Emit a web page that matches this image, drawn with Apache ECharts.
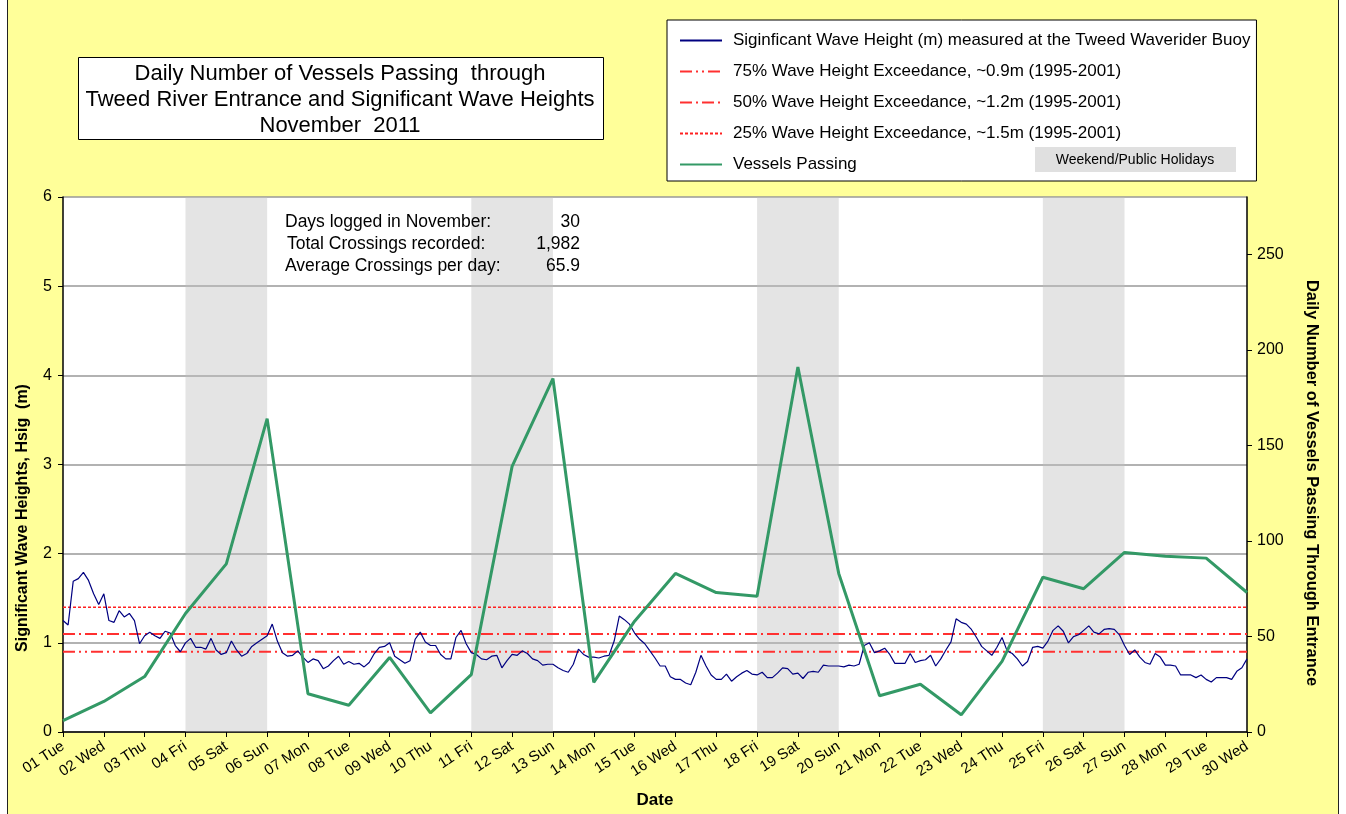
<!DOCTYPE html>
<html>
<head>
<meta charset="utf-8">
<script src="https://cdn.jsdelivr.net/npm/echarts@6/dist/echarts.min.js"></script>
<style>
    html, body { margin: 0; padding: 0; background: #fff; }
    .frame {
        position: absolute;
        left: 7px;
        top: 0;
        width: 1330px;
        height: 814px;
        border-left: 1px solid #222;
        border-right: 1px solid #222;
        background: #FFFF99;
    }
    #chart { width: 1330px; height: 814px; }
</style>
</head>
<body>
<div class="frame"><div id="chart"></div></div>
<script>
    const dayLabels = ['01 Tue', '02 Wed', '03 Thu', '04 Fri', '05 Sat', '06 Sun', '07 Mon', '08 Tue', '09 Wed', '10 Thu',
        '11 Fri', '12 Sat', '13 Sun', '14 Mon', '15 Tue', '16 Wed', '17 Thu', '18 Fri', '19 Sat', '20 Sun',
        '21 Mon', '22 Tue', '23 Wed', '24 Thu', '25 Fri', '26 Sat', '27 Sun', '28 Mon', '29 Tue', '30 Wed'];

    // daily vessel crossings
    const vessels = [6, 16, 29, 62, 88, 164, 20, 14, 39, 10, 30, 139, 185, 26, 58,
        83, 73, 71, 191, 83, 19, 25, 9, 37, 81, 75, 94, 92, 91, 73];

    // Hsig (m), 3-hourly readings, 8 per day
    const samplesPerDay = 8;
    const waveHeight = [
        1.25, 1.20, 1.69, 1.72, 1.79, 1.70, 1.55, 1.43,
        1.55, 1.25, 1.23, 1.36, 1.29, 1.33, 1.25, 0.99,
        1.08, 1.12, 1.08, 1.05, 1.13, 1.11, 0.97, 0.90,
        1.00, 1.05, 0.95, 0.95, 0.93, 1.05, 0.92, 0.87,
        0.89, 1.02, 0.92, 0.85, 0.88, 0.96, 1.00, 1.04,
        1.08, 1.21, 1.02, 0.89, 0.85, 0.86, 0.91, 0.84,
        0.78, 0.82, 0.80, 0.71, 0.74, 0.80, 0.85, 0.76,
        0.79, 0.76, 0.77, 0.73, 0.78, 0.88, 0.95, 0.96,
        1.00, 0.85, 0.81, 0.77, 0.80, 1.04, 1.12, 1.01,
        0.97, 0.97, 0.87, 0.82, 0.82, 1.06, 1.14, 0.99,
        0.89, 0.87, 0.82, 0.81, 0.85, 0.86, 0.72, 0.80,
        0.87, 0.86, 0.91, 0.88, 0.82, 0.80, 0.75, 0.76,
        0.76, 0.72, 0.69, 0.67, 0.76, 0.93, 0.87, 0.84,
        0.84, 0.83, 0.85, 0.86, 1.02, 1.30, 1.26, 1.21,
        1.11, 1.04, 0.99, 0.91, 0.83, 0.74, 0.74, 0.62,
        0.59, 0.59, 0.55, 0.53, 0.67, 0.86, 0.74, 0.64,
        0.59, 0.59, 0.65, 0.57, 0.62, 0.66, 0.69, 0.65,
        0.64, 0.67, 0.61, 0.61, 0.66, 0.72, 0.71, 0.65,
        0.66, 0.60, 0.67, 0.68, 0.67, 0.75, 0.74, 0.74,
        0.74, 0.73, 0.75, 0.74, 0.76, 0.97, 1.00, 0.89,
        0.91, 0.94, 0.87, 0.77, 0.77, 0.77, 0.88, 0.78,
        0.80, 0.81, 0.86, 0.74, 0.82, 0.92, 1.01, 1.27,
        1.23, 1.21, 1.15, 1.06, 0.96, 0.91, 0.86, 0.95,
        1.06, 0.91, 0.88, 0.82, 0.74, 0.79, 0.95, 0.96,
        0.94, 1.02, 1.14, 1.19, 1.13, 1.00, 1.07, 1.09,
        1.14, 1.19, 1.12, 1.10, 1.15, 1.16, 1.15, 1.09,
        0.97, 0.87, 0.92, 0.84, 0.78, 0.76, 0.88, 0.84,
        0.75, 0.75, 0.74, 0.64, 0.64, 0.64, 0.61, 0.64,
        0.59, 0.56, 0.61, 0.61, 0.61, 0.59, 0.68, 0.72,
        0.82
    ];

    // weekend / public holiday bands, [from day index, to day index]
    const weekendSpans = [[3, 5], [10, 12], [17, 19], [24, 26]];

    const exceedNames = ['75% Wave Height Exceedance, ~0.9m (1995-2001)',
        '50% Wave Height Exceedance, ~1.2m (1995-2001)',
        '25% Wave Height Exceedance, ~1.5m (1995-2001)'];
    const exceedLevels = [0.9, 1.1, 1.4];

    const rightTicks = [0, 50, 100, 150, 200, 250];

    const statLabels = ['Days logged in November:', 'Total Crossings recorded:', 'Average Crossings per day:'];
    const statValues = ['30', '1,982', '65.9'];

    const titleLines = ['Daily Number of Vessels Passing  through',
        'Tweed River Entrance and Significant Wave Heights',
        'November  2011'];

    const waveName = 'Siginficant Wave Height (m) measured at the Tweed Waverider Buoy';
    const vesselName = 'Vessels Passing';
    const font = '"Liberation Sans", Arial, sans-serif';
    const lastDay = dayLabels.length - 1;

    let chart = echarts.init(document.getElementById('chart'));

    let dashTypes = [[12, 4, 2, 4, 2, 4], [12, 4, 2, 4], [3, 2]];
    let exceedSeries = exceedLevels.map(function (lv, i) {
        return {
            name: exceedNames[i],
            type: 'line',
            yAxisIndex: 0,
            symbol: 'none',
            silent: true,
            data: [[0, lv], [lastDay, lv]],
            lineStyle: {color: i === 2 ? '#ff2020' : '#ff3030', width: i === 2 ? 1.5 : 2, type: dashTypes[i]},
            itemStyle: {color: '#ff3030'},
            z: 3
        };
    });

    let graphics = [
        {
            type: 'rect', left: 70, top: 57,
            shape: {width: 525, height: 82},
            style: {fill: '#fff', stroke: '#000', lineWidth: 1}
        },
        {
            type: 'rect', left: 1027, top: 147,
            shape: {width: 201, height: 25},
            style: {fill: '#e0e0e0'}, z: 10
        },
        {
            type: 'text', x: 1127, y: 160, z: 11,
            style: {text: 'Weekend/Public Holidays', font: '14px ' + font, fill: '#000', align: 'center', verticalAlign: 'middle'}
        },
        {
            // left axis title
            type: 'text', x: 15, y: 518, rotation: Math.PI / 2, z: 10,
            style: {text: 'Significant Wave Heights, Hsig  (m)', font: 'bold 16px ' + font, fill: '#000', align: 'center', verticalAlign: 'middle'}
        },
        {
            // right axis title
            type: 'text', x: 1304, y: 483, rotation: -Math.PI / 2, z: 10,
            style: {text: 'Daily Number of Vessels Passing Through Entrance', font: 'bold 16.5px ' + font, fill: '#000', align: 'center', verticalAlign: 'middle'}
        }
    ];
    titleLines.forEach(function (t, i) {
        graphics.push({
            type: 'text', x: 332, y: 74 + i * 26,
            style: {text: t, font: '22px ' + font, fill: '#000', align: 'center', verticalAlign: 'middle'}
        });
    });
    statLabels.forEach(function (t, i) {
        graphics.push({
            type: 'text', x: 277 + (i === 1 ? 2 : 0), y: 222 + i * 22, z: 10,
            style: {text: t, font: '17.5px ' + font, fill: '#000', verticalAlign: 'middle'}
        });
        graphics.push({
            type: 'text', x: 572, y: 222 + i * 22, z: 10,
            style: {text: statValues[i], font: '17.5px ' + font, fill: '#000', align: 'right', verticalAlign: 'middle'}
        });
    });

    chart.setOption({
        backgroundColor: 'transparent',
        textStyle: {fontFamily: font, color: '#000'},
        animation: false,
        grid: {
            left: 55, right: 91, top: 197, bottom: 81,
            show: true, backgroundColor: '#fff', borderWidth: 0
        },
        legend: {
            orient: 'vertical',
            left: 659, top: 20,
            padding: [12, 6, 8, 12],
            itemWidth: 42, itemHeight: 16, itemGap: 14,
            backgroundColor: '#fff', borderColor: '#000', borderWidth: 1,
            itemStyle: {opacity: 0, borderWidth: 0},
            textStyle: {fontSize: 17, lineHeight: 16, color: '#000', fontFamily: font, padding: [0, 0, 0, 6]},
            selectedMode: false,
            data: [waveName].concat(exceedNames, [vesselName])
        },
        graphic: graphics,
        xAxis: {
            type: 'value',
            min: 0, max: lastDay, interval: 1,
            name: 'Date', nameLocation: 'middle', nameGap: 60,
            nameTextStyle: {fontSize: 17, fontWeight: 'bold', color: '#000'},
            axisLine: {lineStyle: {color: '#000', width: 1.5}},
            axisTick: {length: 5, lineStyle: {color: '#000'}},
            axisLabel: {
                rotate: 33, fontSize: 15, color: '#000', margin: 13,
                formatter: function (v) { return dayLabels[v] || ''; }
            },
            splitLine: {show: false}
        },
        yAxis: [
            {
                type: 'value', min: 0, max: 6, interval: 1,
                axisLine: {show: true, lineStyle: {color: '#000', width: 1.5}},
                axisTick: {show: true, length: 5, lineStyle: {color: '#000'}},
                axisLabel: {fontSize: 16, color: '#000', margin: 11},
                splitLine: {lineStyle: {color: '#999', width: 1.5}}
            },
            {
                type: 'value', min: 0, max: 280, interval: 50,
                position: 'right',
                axisLine: {show: true, lineStyle: {color: '#000', width: 1.5}},
                axisTick: {show: true, length: 5, customValues: rightTicks, lineStyle: {color: '#000'}},
                axisLabel: {fontSize: 16, color: '#000', margin: 10, customValues: rightTicks},
                splitLine: {show: false}
            }
        ],
        series: [
            {
                name: 'weekends',
                type: 'line',
                yAxisIndex: 0,
                data: [],
                silent: true,
                markArea: {
                    silent: true,
                    itemStyle: {color: 'rgba(190,190,190,0.42)'},
                    data: weekendSpans.map(function (s) { return [{xAxis: s[0]}, {xAxis: s[1]}]; })
                },
                z: 1
            },
            {
                name: waveName,
                type: 'line',
                yAxisIndex: 0,
                symbol: 'none',
                data: waveHeight.map(function (v, i) { return [i / samplesPerDay, v]; }),
                lineStyle: {color: '#000080', width: 1.2},
                itemStyle: {color: '#000080'},
                z: 4
            }
        ].concat(exceedSeries, [
            {
                name: vesselName,
                type: 'line',
                yAxisIndex: 1,
                symbol: 'none',
                data: vessels.map(function (v, i) { return [i, v]; }),
                lineStyle: {color: '#339966', width: 3},
                itemStyle: {color: '#339966'},
                z: 5
            }
        ])
    });
</script>
</body>
</html>
